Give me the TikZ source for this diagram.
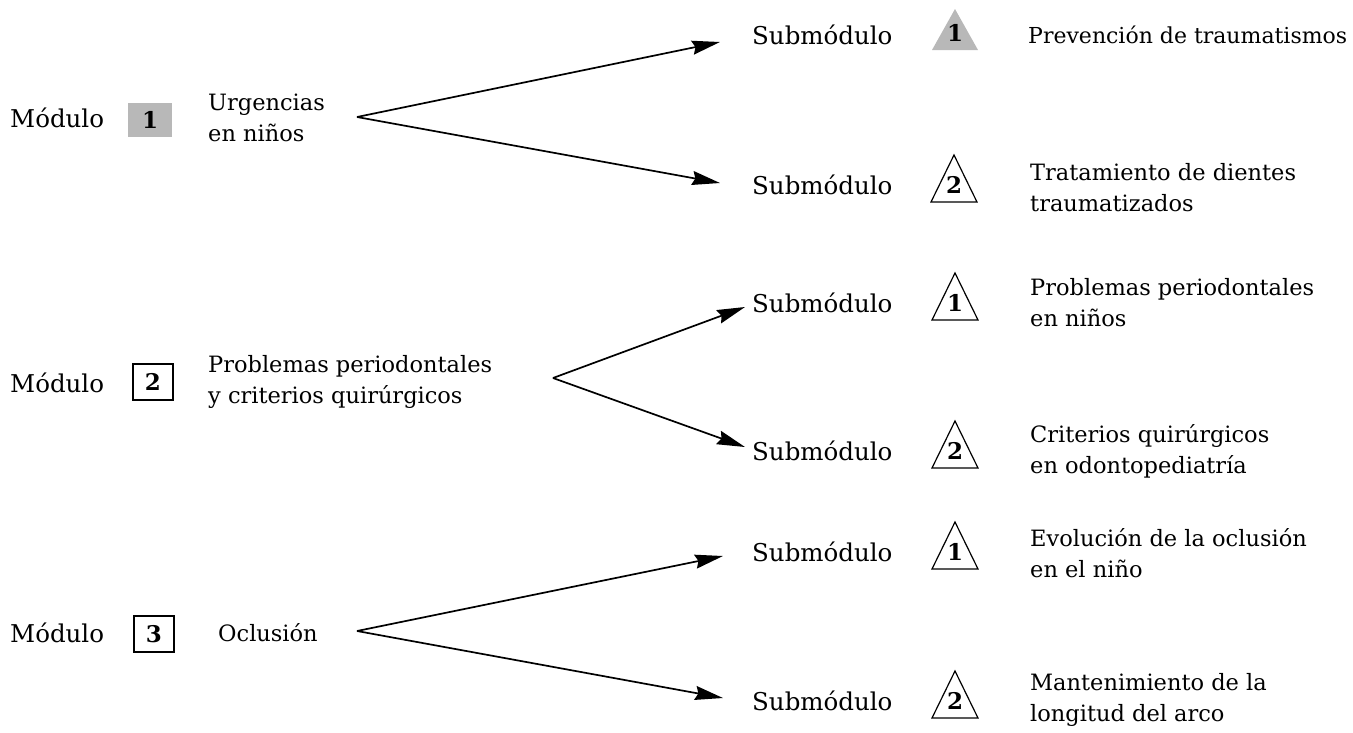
\documentclass[tikz,border=0pt]{standalone}
\usepackage{fontspec}
\setmainfont{DejaVu Serif}
\usetikzlibrary{arrows.meta,calc}
\begin{document}
\begin{tikzpicture}[x=1pt,y=-1pt,
  txt/.style={anchor=west,align=left,inner sep=0pt,font=\fontsize{22.5}{31}\selectfont},
  lbl/.style={txt,font=\fontsize{24.5}{31}\selectfont},
  numbox/.style={draw,line width=1.3pt,minimum width=40pt,minimum height=36pt,inner sep=0pt,font=\fontsize{23}{26}\selectfont\bfseries},
  shadebox/.style={fill=black!28,minimum width=44pt,minimum height=34pt,inner sep=0pt,font=\fontsize{23}{26}\selectfont\bfseries},
  trinum/.style={inner sep=0pt,font=\fontsize{23}{26}\selectfont\bfseries},
  tridraw/.style={draw,line width=1.2pt,line join=miter},
  trishade/.style={fill=black!28},
  arr/.style={line width=1.7pt,-{Stealth[length=28pt,width=14pt,inset=3pt]}}]
\useasboundingbox (0,0) rectangle (1353,732);

% ---- Row 1 ----
\node[lbl] (m1) at (10,118) {Módulo};
\node[shadebox] (b1) at (150,120) {1};
\node[txt] (d1) at (208,118) {Urgencias\\en niños};
\coordinate (o1) at (357,117);

\node[lbl] (s11) at (752,35) {Submódulo};
\coordinate (c11) at (955,33);
\path[trishade] ($(c11)+(0,-24)$) -- ($(c11)+(-23,17)$) -- ($(c11)+(23,17)$) -- cycle;
\node[trinum] (t11) at (c11) {1};
\node[txt,font=\fontsize{22}{31}\selectfont] (r11) at (1028,35) {Prevención de traumatismos};

\node[lbl] (s12) at (752,185) {Submódulo};
\coordinate (c12) at (954,185);
\draw[tridraw] ($(c12)+(0,-30)$) -- ($(c12)+(-23,17)$) -- ($(c12)+(23,17)$) -- cycle;
\node[trinum] (t12) at (c12) {2};
\node[txt] (r12) at (1030,188) {Tratamiento de dientes\\traumatizados};

\draw[arr] (o1) -- ([shift={(-32,7)}]s11.west);
\draw[arr] (o1) -- ([shift={(-32,-2)}]s12.west);

% ---- Row 2 ----
\node[lbl] (m2) at (10,383) {Módulo};
\node[numbox] (b2) at (153,382) {2};
\node[txt] (d2) at (208,382) {Problemas periodontales\\y criterios quirúrgicos};
\coordinate (o2) at (553,378);

\node[lbl] (s21) at (752,303) {Submódulo};
\coordinate (c21) at (955,303);
\draw[tridraw] ($(c21)+(0,-30)$) -- ($(c21)+(-23,17)$) -- ($(c21)+(23,17)$) -- cycle;
\node[trinum] (t21) at (c21) {1};
\node[txt] (r21) at (1030,303) {Problemas periodontales\\en niños};

\node[lbl] (s22) at (752,451) {Submódulo};
\coordinate (c22) at (955,451);
\draw[tridraw] ($(c22)+(0,-30)$) -- ($(c22)+(-23,17)$) -- ($(c22)+(23,17)$) -- cycle;
\node[trinum] (t22) at (c22) {2};
\node[txt] (r22) at (1030,451) {Criterios quirúrgicos\\en odontopediatría};

\draw[arr] (o2) -- ([shift={(-7,4)}]s21.west);
\draw[arr] (o2) -- ([shift={(-7,-4)}]s22.west);

% ---- Row 3 ----
\node[lbl] (m3) at (10,633) {Módulo};
\node[numbox] (b3) at (154,634) {3};
\node[txt] (d3) at (218,633) {Oclusión};
\coordinate (o3) at (357,631);

\node[lbl] (s31) at (752,552) {Submódulo};
\coordinate (c31) at (955,552);
\draw[tridraw] ($(c31)+(0,-30)$) -- ($(c31)+(-23,17)$) -- ($(c31)+(23,17)$) -- cycle;
\node[trinum] (t31) at (c31) {1};
\node[txt] (r31) at (1030,553) {Evolución de la oclusión\\en el niño};

\node[lbl] (s32) at (752,701) {Submódulo};
\coordinate (c32) at (955,701);
\draw[tridraw] ($(c32)+(0,-30)$) -- ($(c32)+(-23,17)$) -- ($(c32)+(23,17)$) -- cycle;
\node[trinum] (t32) at (c32) {2};
\node[txt] (r32) at (1030,700) {Mantenimiento de la\\longitud del arco};

\draw[arr] (o3) -- ([shift={(-29,4)}]s31.west);
\draw[arr] (o3) -- ([shift={(-29,-3)}]s32.west);
\end{tikzpicture}
\end{document}
